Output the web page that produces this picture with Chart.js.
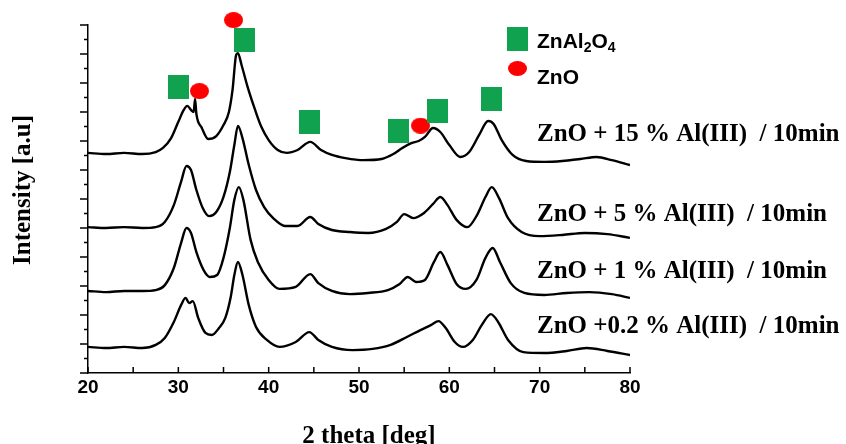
<!DOCTYPE html>
<html><head><meta charset="utf-8">
<script src="https://cdn.jsdelivr.net/npm/chart.js"></script>
<style>html,body{margin:0;padding:0;background:#fff}#wrap{width:846px;height:444px}</style>
</head><body><div id="wrap"><canvas id="c" width="846" height="444"></canvas></div>
<script>
// ---- data (2θ in degrees, intensity in stacked arbitrary units) ----
const theta15 = [20,22,24,26,27.5,28.3,29.2,30,30.6,31,31.4,31.7,31.85,32,32.6,33.3,34.2,35,35.6,36,36.4,36.6,37,37.7,38.5,39.2,40,41,42,43.2,44.6,45.8,47,48.5,50.5,52.5,53.8,54.8,55.8,56.6,57.3,58.2,59,60,61.2,62.2,63.3,64.3,64.9,65.8,67,68.5,70.5,72.5,74.5,76.3,78,80];
const int15   = [7.59,7.55,7.59,7.55,7.62,7.76,8.10,8.66,9.07,9.21,9.07,9.0,9.45,8.93,8.45,8.07,8.17,8.55,9.0,9.76,10.97,11.03,10.62,9.83,9.07,8.48,8.03,7.69,7.59,7.69,7.97,7.69,7.52,7.41,7.34,7.38,7.55,7.76,7.93,8.0,8.14,8.45,8.31,7.86,7.45,7.62,8.21,8.69,8.59,8.03,7.52,7.31,7.28,7.31,7.38,7.45,7.34,7.17];

const theta5 = [20,22,24,26,27.5,28.5,29.5,30.3,30.9,31.4,32,32.7,33.4,34.2,35,35.7,36.2,36.6,37.1,37.8,38.6,39.5,40.5,41.8,43.2,44.6,45.5,47,49,51,53,54.2,55,56,57.2,58.2,59,59.8,60.8,62,63,64,64.7,65.5,66.5,68,70,72.5,75,77.5,80];
const int5   = [5.03,5.0,5.03,5.0,5.03,5.21,5.79,6.59,7.14,7.0,6.31,5.69,5.41,5.55,6.07,6.93,7.86,8.52,8.10,7.17,6.31,5.72,5.34,5.07,5.07,5.38,5.14,4.93,4.86,4.83,4.97,5.21,5.48,5.34,5.52,5.83,6.07,5.79,5.28,5.03,5.41,6.07,6.41,6.03,5.34,4.86,4.72,4.76,4.83,4.79,4.66];

const theta1 = [20,22,24,26,27.5,28.5,29.5,30.3,30.9,31.4,32,32.8,33.5,34.3,35,35.7,36.2,36.7,37.2,38,38.8,40,41.2,43,44.6,45.5,47,49,51,53.2,54.5,55.4,56.3,57.3,58.3,59,59.8,60.8,61.8,63,64,64.8,65.6,66.8,68.3,70.5,73,75.5,78,80];
const int1   = [2.83,2.79,2.83,2.83,2.86,3.03,3.62,4.48,5.0,4.83,4.17,3.55,3.31,3.38,3.97,5.0,5.97,6.41,5.97,4.59,3.83,3.21,2.90,2.97,3.41,3.10,2.83,2.72,2.76,2.86,3.07,3.31,3.14,3.21,3.83,4.17,3.72,3.07,2.90,3.21,3.97,4.31,3.83,3.10,2.76,2.69,2.76,2.79,2.72,2.59];

const theta02 = [20,22,24,26,27.5,28.5,29.5,30.3,30.8,31.2,31.6,32.2,33,33.7,34.5,35.2,35.8,36.2,36.6,37.1,37.8,38.6,39.8,41.2,43,44.5,45.5,47,49.3,51.5,53.5,55.3,56.8,58,58.8,59.6,60.6,61.5,62.6,63.6,64.6,65.4,66.5,68.2,70.5,73,75.2,77.5,80];
const int02   = [0.90,0.86,0.90,0.86,0.97,1.21,1.76,2.34,2.59,2.41,2.48,1.90,1.38,1.31,1.55,1.90,2.62,3.38,3.83,3.38,2.34,1.59,1.14,0.90,1.07,1.41,1.14,0.90,0.79,0.83,0.97,1.24,1.48,1.66,1.79,1.55,1.07,0.90,1.14,1.66,2.03,1.76,1.14,0.72,0.69,0.76,0.86,0.76,0.62];

// phase markers
const znal2o4Theta = [30.02,37.33,44.52,54.32,58.64,64.67];
const znal2o4Int   = [9.86,11.5,8.67,8.36,9.05,9.45];
const znoTheta = [36.11,32.34,56.81];
const znoInt   = [12.17,9.72,8.53];

const sampleLabels = ['ZnO + 15 % Al(III)  / 10min','ZnO + 5 % Al(III)  / 10min','ZnO + 1 % Al(III)  / 10min','ZnO +0.2 % Al(III)  / 10min'];
const xTickValues = [20,30,40,50,60,70,80];
const yMin = 0, yMax = 12;

const GREEN = '#10a24e', RED = '#ff0000';

function pts(xs, ys){ return xs.map((x,i)=>({x:x, y:ys[i]})); }

function makeRect(w,h,col){ const c=document.createElement('canvas'); c.width=w; c.height=h; const g=c.getContext('2d'); g.fillStyle=col; g.fillRect(0,0,w,h); return c; }
function makeEllipse(w,h,col){ const c=document.createElement('canvas'); c.width=w; c.height=h; const g=c.getContext('2d'); g.fillStyle=col; g.beginPath(); g.ellipse(w/2,h/2,w/2,h/2,0,0,Math.PI*2); g.fill(); return c; }
const sqImg = makeRect(21,24,GREEN);
const elImg = makeEllipse(19,16,RED);

const lineDs = (xs,ys)=>({type:'line', data:pts(xs,ys), borderColor:'#000', borderWidth:2.4, pointRadius:0, showLine:true, fill:false, cubicInterpolationMode:'monotone'});

const serif = '"Liberation Serif", "Times New Roman", serif';
const sans = '"Liberation Sans", Arial, sans-serif';

const decor = {
  id:'decor',
  afterDraw(chart){
    const ctx = chart.ctx, xs = chart.scales.x, ys = chart.scales.y;
    const x0 = xs.left, yb = ys.bottom;
    ctx.save();
    ctx.strokeStyle='#000'; ctx.lineWidth=1.5;
    ctx.beginPath();
    for(let v=yMin; v<=yMax+1e-9; v+=0.5){
      const py = ys.getPixelForValue(v);
      const len = (Math.abs(v-Math.round(v))<1e-9) ? 8 : 4;
      ctx.moveTo(x0-len, py); ctx.lineTo(x0, py);
    }
    for(let v=20; v<=80+1e-9; v+=5){
      const px = xs.getPixelForValue(v);
      ctx.moveTo(px, yb); ctx.lineTo(px, yb-6);
    }
    ctx.stroke();
    ctx.fillStyle='#000';
    // axis titles
    ctx.font='bold 25px '+serif;
    ctx.textAlign='center'; ctx.textBaseline='middle';
    ctx.fillText('2 theta [deg]', 369, 437);
    ctx.save(); ctx.translate(24,190); ctx.rotate(-Math.PI/2); ctx.fillText('Intensity [a.u]',0,0); ctx.restore();
    // sample labels
    ctx.textAlign='left'; ctx.textBaseline='alphabetic';
    const base=[141,221,278,333];
    sampleLabels.forEach((t,i)=>ctx.fillText(t,537,base[i]));
    // legend
    ctx.fillStyle=GREEN; ctx.fillRect(507,27,21,24);
    ctx.fillStyle=RED; ctx.beginPath(); ctx.ellipse(517.5,68.5,9.5,7.5,0,0,Math.PI*2); ctx.fill();
    ctx.fillStyle='#000';
    const big='bold 21px '+sans, small='bold 14px '+sans;
    let x=537;
    const parts=[['ZnAl',big,0],['2',small,4],['O',big,0],['4',small,4]];
    parts.forEach(p=>{ctx.font=p[1]; ctx.fillText(p[0],x,48+p[2]); x+=ctx.measureText(p[0]).width;});
    ctx.font=big; ctx.fillText('ZnO',537,84);
    ctx.restore();
  }
};

new Chart(document.getElementById('c'), {
  type:'scatter',
  data:{datasets:[
    {data:pts(znal2o4Theta,znal2o4Int), pointStyle:sqImg, pointRadius:10, clip:false},
    {data:pts(znoTheta,znoInt), pointStyle:elImg, pointRadius:9, clip:false},
    lineDs(theta15,int15), lineDs(theta5,int5), lineDs(theta1,int1), lineDs(theta02,int02)
  ]},
  options:{
    responsive:false, animation:false, devicePixelRatio:1, events:[],
    layout:{padding:{top:25,right:216,left:0,bottom:0}},
    plugins:{legend:{display:false}, tooltip:{enabled:false}},
    scales:{
      x:{type:'linear', min:20, max:80, afterBuildTicks(s){ s.ticks = xTickValues.map(v=>({value:v})); },
         ticks:{font:{family:sans, weight:'bold', size:19}, color:'#000', padding:3, maxRotation:0},
         grid:{display:false, drawTicks:false}, border:{display:true, color:'#000', width:1.5},
         afterFit(s){ s.height=71; }},
      y:{type:'linear', min:yMin, max:yMax, ticks:{display:false}, grid:{display:false, drawTicks:false},
         border:{display:true, color:'#000', width:1.5}, afterFit(s){ s.width=88; }}
    }
  },
  plugins:[decor]
});
</script></body></html>
